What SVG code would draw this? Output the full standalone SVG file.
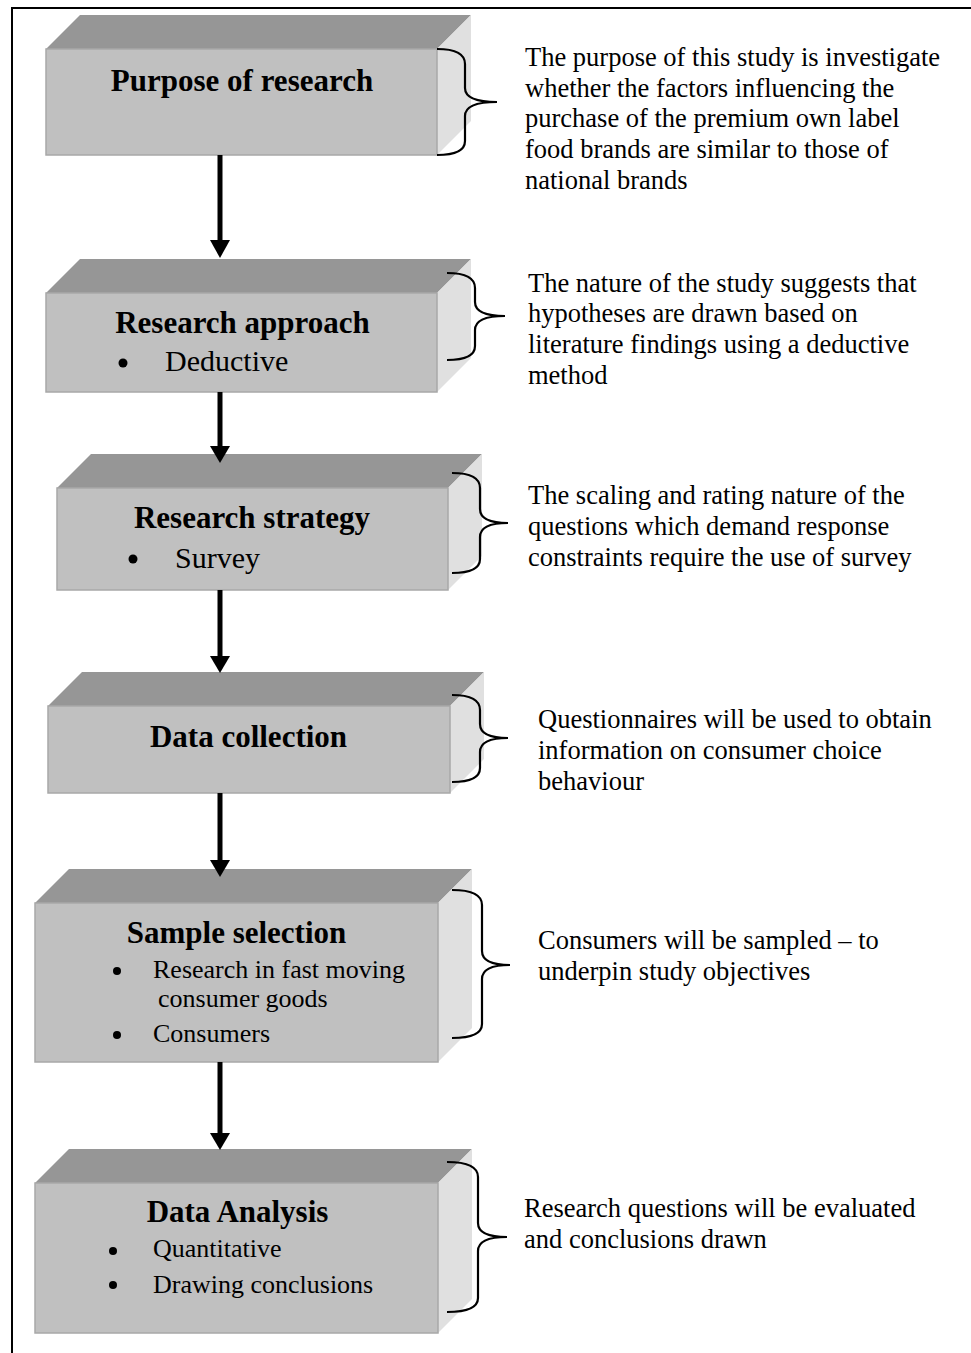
<svg xmlns="http://www.w3.org/2000/svg" width="971" height="1353" viewBox="0 0 971 1353">
<style>
.top{fill:#969696}
.front{fill:#c0c0c0;stroke:#a8a8a8;stroke-width:1.5}
.side{fill:#e0e0e0}
.title{font-family:"Liberation Serif","Times New Roman",serif;font-weight:bold;font-size:31px;fill:#000;text-anchor:middle}
.b30{font-family:"Liberation Serif","Times New Roman",serif;font-size:30px;fill:#000}
.b26{font-family:"Liberation Serif","Times New Roman",serif;font-size:26px;fill:#000}
.note{font-family:"Liberation Serif","Times New Roman",serif;font-size:26.5px;fill:#000}
.brace{fill:none;stroke:#000;stroke-width:2.2}
.conn line{stroke:#000;stroke-width:5}
.conn polygon{fill:#000}
</style>
<rect width="971" height="1353" fill="#fff"/>
<path d="M12,1353 L12,8 L971,8" fill="none" stroke="#000" stroke-width="2"/>

<g id="node-purpose">
<polygon class="top" points="46,49 80,15 471,15 437,49"/>
<polygon class="side" points="437,49 471,15 471,121 437,155"/>
<rect class="front" x="46" y="49" width="391" height="106"/>
<text class="title" x="242" y="91">Purpose of research</text>
</g>

<g id="node-approach">
<polygon class="top" points="46,293 80,259 471,259 437,293"/>
<polygon class="side" points="437,293 471,259 471,358 437,392"/>
<rect class="front" x="46" y="293" width="391" height="99"/>
<text class="title" x="242.5" y="333">Research approach</text>
<circle cx="123" cy="363" r="4.5"/>
<text class="b30" x="165" y="371">Deductive</text>
</g>

<g id="node-strategy">
<polygon class="top" points="57,488 91,454 482,454 448,488"/>
<polygon class="side" points="448,488 482,454 482,556 448,590"/>
<rect class="front" x="57" y="488" width="391" height="102"/>
<text class="title" x="252" y="528">Research strategy</text>
<circle cx="133" cy="559" r="4.5"/>
<text class="b30" x="175" y="568">Survey</text>
</g>

<g id="node-collection">
<polygon class="top" points="48,706 82,672 484,672 450,706"/>
<polygon class="side" points="450,706 484,672 484,759 450,793"/>
<rect class="front" x="48" y="706" width="402" height="87"/>
<text class="title" x="248.5" y="747">Data collection</text>
</g>

<g id="node-sample">
<polygon class="top" points="35,903 69,869 472,869 438,903"/>
<polygon class="side" points="438,903 472,869 472,1028 438,1062"/>
<rect class="front" x="35" y="903" width="403" height="159"/>
<text class="title" x="236.5" y="943">Sample selection</text>
<circle cx="117" cy="971" r="4"/>
<text class="b26" x="153" y="978">Research in fast moving</text>
<text class="b26" x="158" y="1007">consumer goods</text>
<circle cx="117" cy="1035" r="4"/>
<text class="b26" x="153" y="1042">Consumers</text>
</g>

<g id="node-analysis">
<polygon class="top" points="35,1183 69,1149 472,1149 438,1183"/>
<polygon class="side" points="438,1183 472,1149 472,1299 438,1333"/>
<rect class="front" x="35" y="1183" width="403" height="150"/>
<text class="title" x="237.5" y="1222">Data Analysis</text>
<circle cx="113" cy="1251" r="4"/>
<text class="b26" x="153" y="1257">Quantitative</text>
<circle cx="113" cy="1285" r="4"/>
<text class="b26" x="153" y="1293">Drawing conclusions</text>
</g>

<g id="braces">
<path class="brace" d="M437,49 Q465,49 465,64 L465,88 Q465,102 497,102 Q465,102 465,116 L465,141 Q465,155 437,155"/>
<path class="brace" d="M447,273 Q475,273 475,288 L475,302 Q475,316 505,316 Q475,316 475,330 L475,346 Q475,360 447,360"/>
<path class="brace" d="M452,473 Q480,473 480,488 L480,509 Q480,523 508,523 Q480,523 480,537 L480,559 Q480,573 452,573"/>
<path class="brace" d="M452,695 Q480,695 480,710 L480,724 Q480,738 508,738 Q480,738 480,752 L480,768 Q480,782 452,782"/>
<path class="brace" d="M452,890 Q482,890 482,905 L482,951 Q482,965 510,965 Q482,965 482,979 L482,1024 Q482,1038 452,1038"/>
<path class="brace" d="M447,1162 Q478,1162 478,1177 L478,1223 Q478,1237 507,1237 Q478,1237 478,1251 L478,1298 Q478,1312 447,1312"/>
</g>

<g id="notes">
<text class="note" x="525" y="66">The purpose of this study is investigate</text>
<text class="note" x="525" y="97">whether the factors influencing the</text>
<text class="note" x="525" y="127">purchase of the premium own label</text>
<text class="note" x="525" y="158">food brands are similar to those of</text>
<text class="note" x="525" y="189">national brands</text>
<text class="note" x="528" y="292">The nature of the study suggests that</text>
<text class="note" x="528" y="322">hypotheses are drawn based on</text>
<text class="note" x="528" y="353">literature findings using a deductive</text>
<text class="note" x="528" y="384">method</text>
<text class="note" x="528" y="504">The scaling and rating nature of the</text>
<text class="note" x="528" y="535">questions which demand response</text>
<text class="note" x="528" y="566">constraints require the use of survey</text>
<text class="note" x="538" y="728">Questionnaires will be used to obtain</text>
<text class="note" x="538" y="759">information on consumer choice</text>
<text class="note" x="538" y="790">behaviour</text>
<text class="note" x="538" y="949">Consumers will be sampled – to</text>
<text class="note" x="538" y="980">underpin study objectives</text>
<text class="note" x="524" y="1217">Research questions will be evaluated</text>
<text class="note" x="524" y="1248">and conclusions drawn</text>
</g>

<g id="connectors" class="conn">
<line x1="220" y1="155" x2="220" y2="242"/>
<polygon points="210,240 230,240 220,258"/>
<line x1="220" y1="392" x2="220" y2="448"/>
<polygon points="210,446 230,446 220,463"/>
<line x1="220" y1="590" x2="220" y2="658"/>
<polygon points="210,656 230,656 220,673"/>
<line x1="220" y1="793" x2="220" y2="862"/>
<polygon points="210,860 230,860 220,877"/>
<line x1="220" y1="1062" x2="220" y2="1135"/>
<polygon points="210,1133 230,1133 220,1150"/>
</g>
</svg>
